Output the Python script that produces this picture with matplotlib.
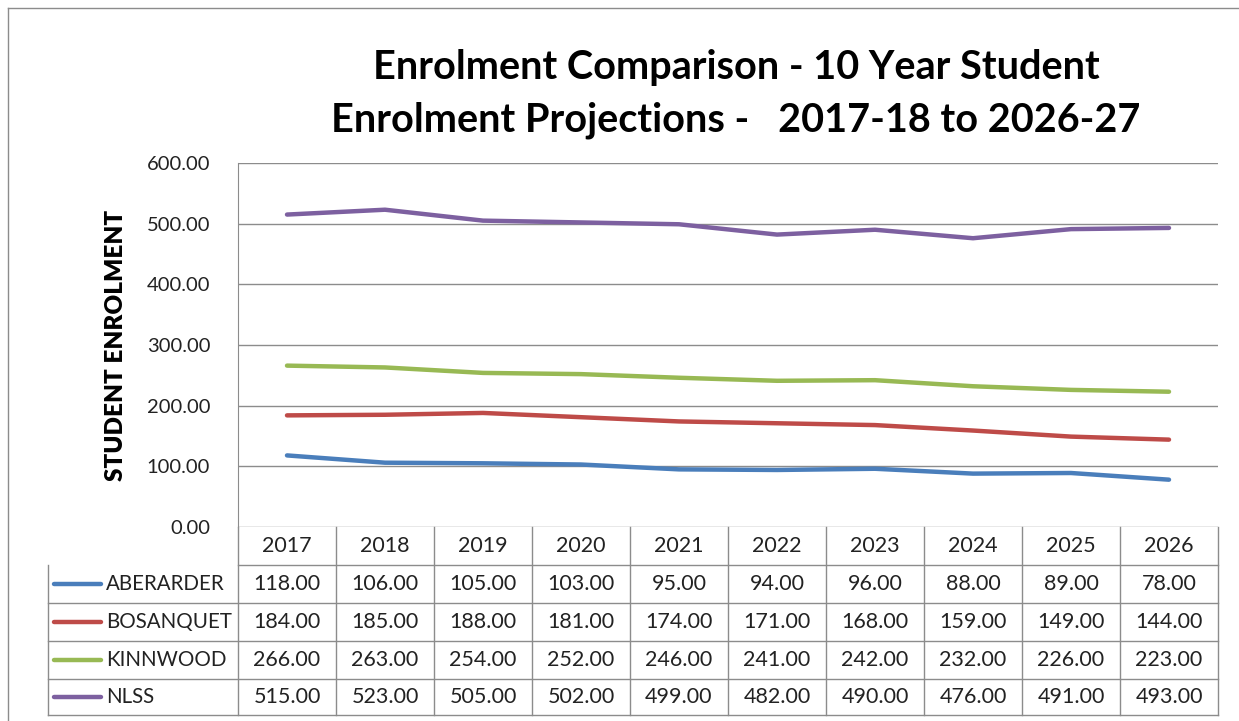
import matplotlib.pyplot as plt
from matplotlib.lines import Line2D

years = ["2017", "2018", "2019", "2020", "2021", "2022", "2023", "2024", "2025", "2026"]
schools = ["ABERARDER", "BOSANQUET", "KINNWOOD", "NLSS"]
aberarder = [118, 106, 105, 103, 95, 94, 96, 88, 89, 78]
bosanquet = [184, 185, 188, 181, 174, 171, 168, 159, 149, 144]
kinnwood = [266, 263, 254, 252, 246, 241, 242, 232, 226, 223]
nlss = [515, 523, 505, 502, 499, 482, 490, 476, 491, 493]
colors = ["#4A7EBB", "#BE4B48", "#98B954", "#7D60A0"]

W, H = 1239, 721
FONT = "Lato"
GRID = "#8c8c8c"
TXT = "#222222"


def px(x, y):
    return x / W, 1 - y / H


fig = plt.figure(figsize=(W / 100, H / 100), dpi=100)

# plot area in pixels
left, right, top, bottom = 238, 1218, 163, 527
ax = fig.add_axes([left / W, 1 - bottom / H, (right - left) / W, (bottom - top) / H])

series = [aberarder, bosanquet, kinnwood, nlss]
for vals, c in zip(series, colors):
    ax.plot(range(len(years)), vals, color=c, lw=3.2, solid_capstyle="round")

ax.set_xlim(-0.5, len(years) - 0.5)
ax.set_ylim(0, 600)
ax.set_yticks(range(0, 601, 100))
ax.set_yticklabels([f"{v:.2f}" for v in range(0, 601, 100)], fontsize=14.5, family=FONT, color=TXT)
ax.set_xticks([])
ax.tick_params(axis="y", length=0, pad=20)
ax.grid(axis="y", color=GRID, lw=1)
for s in ["top", "right", "bottom"]:
    ax.spines[s].set_visible(False)
ax.spines["left"].set_color(GRID)
ax.set_ylabel("STUDENT ENROLMENT", fontsize=17.5, fontweight="heavy", family=FONT, labelpad=14)

# title
fig.text(*px(736, 68), "Enrolment Comparison - 10 Year Student", ha="center", va="center",
         fontsize=28.5, fontweight="bold", family=FONT)
fig.text(*px(736, 120), "Enrolment Projections -   2017-18 to 2026-27", ha="center", va="center",
         fontsize=28.5, fontweight="bold", family=FONT)

# data table
col_w = (right - left) / len(years)
row_top = [527, 565, 603, 641, 679]
row_bot = 715
leg_left = 48


def hline(x0, x1, y):
    fig.add_artist(Line2D([x0 / W, x1 / W], [1 - y / H, 1 - y / H], color=GRID, lw=1))


def vline(x, y0, y1):
    fig.add_artist(Line2D([x / W, x / W], [1 - y0 / H, 1 - y1 / H], color=GRID, lw=1))


hline(left, right, row_top[1])
for y in row_top[2:] + [row_bot]:
    hline(leg_left, right, y)
vline(leg_left, row_top[1], row_bot)
vline(left, bottom, row_bot)
for i in range(1, len(years) + 1):
    vline(left + i * col_w, row_top[0], row_bot)

for i, yr in enumerate(years):
    fig.text(*px(left + (i + 0.5) * col_w, (row_top[0] + row_top[1]) / 2), yr,
             ha="center", va="center", fontsize=15.5, family=FONT, color=TXT)

for r, (name, vals, c) in enumerate(zip(schools, series, colors)):
    yc = (row_top[r + 1] + (row_top[r + 2] if r + 2 < len(row_top) else row_bot)) / 2
    fig.add_artist(Line2D([54 / W, 101 / W], [1 - yc / H, 1 - yc / H], color=c, lw=3.2,
                          solid_capstyle="round"))
    fig.text(*px(106, yc), name, ha="left", va="center", fontsize=14.8, family=FONT, color=TXT)
    for i, v in enumerate(vals):
        fig.text(*px(left + (i + 0.5) * col_w, yc), f"{v:.2f}", ha="center", va="center",
                 fontsize=15.5, family=FONT, color=TXT)

# chart frame
hline(8, W, 8)
vline(8, 8, H)

fig.savefig("out.png", dpi=100)
